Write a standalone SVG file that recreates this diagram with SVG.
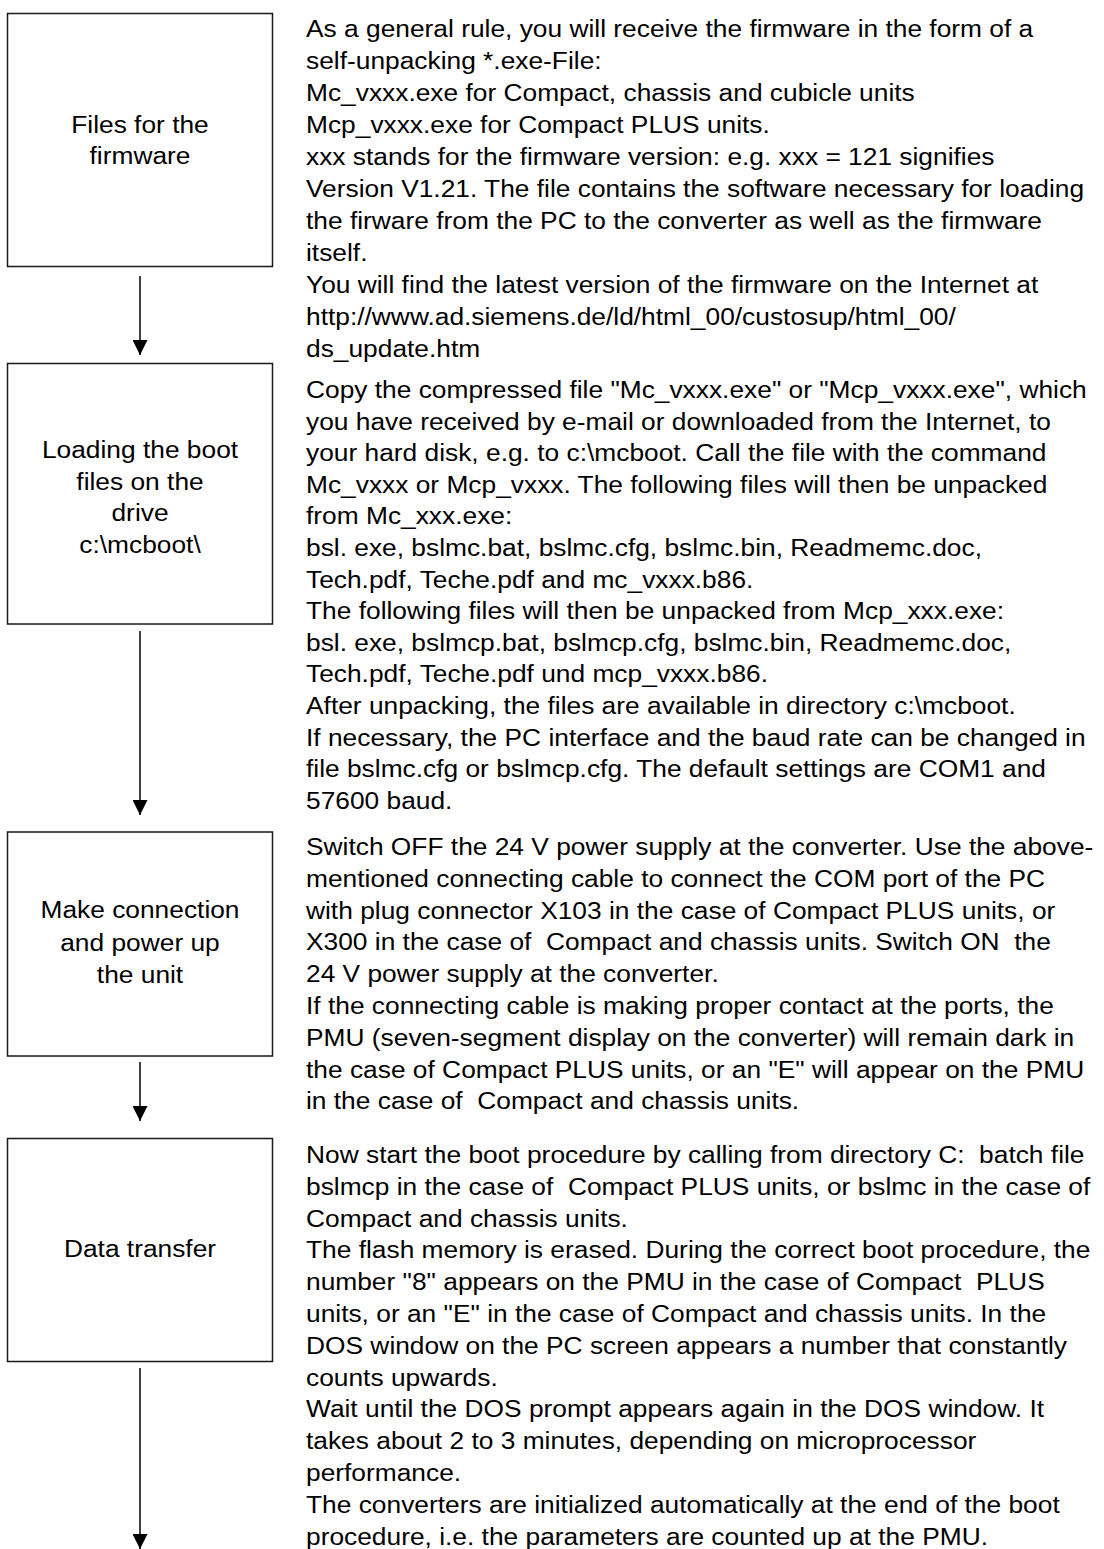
<svg xmlns="http://www.w3.org/2000/svg" width="1104" height="1549" viewBox="0 0 1104 1549">
<style>
.box{fill:#fff;stroke:#1a1a1a;stroke-width:1.5}
.lbl{font-family:"Liberation Sans",Arial,sans-serif;font-size:23.3px;fill:#000;text-anchor:middle}
.txt{font-family:"Liberation Sans",Arial,sans-serif;font-size:23.3px;fill:#000;white-space:pre}
.conn{stroke:#000;stroke-width:1.5;fill:none}
</style>
<defs>
<marker id="ah" markerUnits="userSpaceOnUse" markerWidth="15" markerHeight="15" refX="15" refY="7.5" orient="auto" viewBox="0 0 15 15">
<path d="M0,0 L15,7.5 L0,15 z" fill="#000"/>
</marker>
</defs>
<rect width="1104" height="1549" fill="#fff"/>
<g id="connectors">
<line class="conn" x1="140" y1="276" x2="140" y2="355" marker-end="url(#ah)"/>
<line class="conn" x1="140" y1="631" x2="140" y2="815" marker-end="url(#ah)"/>
<line class="conn" x1="140" y1="1062" x2="140" y2="1121" marker-end="url(#ah)"/>
<line class="conn" x1="140" y1="1368" x2="140" y2="1549" marker-end="url(#ah)"/>
</g>
<g id="node-files">
<rect class="box" x="7.5" y="13.5" width="265" height="253"/>
<g transform="scale(1.13 1)"><text class="lbl" x="123.9" y="133">Files for the</text><text class="lbl" x="123.9" y="164">firmware</text></g>
</g>
<g id="node-loading">
<rect class="box" x="7.5" y="363.5" width="265" height="260.5"/>
<g transform="scale(1.13 1)"><text class="lbl" x="123.9" y="458.5">Loading the boot</text><text class="lbl" x="123.9" y="490">files on the</text><text class="lbl" x="123.9" y="521.5">drive</text><text class="lbl" x="123.9" y="553">c:\mcboot\</text></g>
</g>
<g id="node-connection">
<rect class="box" x="7.5" y="832" width="265" height="224"/>
<g transform="scale(1.13 1)"><text class="lbl" x="123.9" y="918.5">Make connection</text><text class="lbl" x="123.9" y="951">and power up</text><text class="lbl" x="123.9" y="983.5">the unit</text></g>
</g>
<g id="node-transfer">
<rect class="box" x="7.5" y="1138.5" width="265" height="223"/>
<g transform="scale(1.13 1)"><text class="lbl" x="123.9" y="1257.5">Data transfer</text></g>
</g>
<g id="desc-files" transform="scale(1.13 1)">
<text class="txt" x="270.8" y="37">As a general rule, you will receive the firmware in the form of a</text>
<text class="txt" x="270.8" y="69">self-unpacking *.exe-File:</text>
<text class="txt" x="270.8" y="101">Mc_vxxx.exe for Compact, chassis and cubicle units</text>
<text class="txt" x="270.8" y="133">Mcp_vxxx.exe for Compact PLUS units.</text>
<text class="txt" x="270.8" y="165">xxx stands for the firmware version: e.g. xxx = 121 signifies</text>
<text class="txt" x="270.8" y="197">Version V1.21. The file contains the software necessary for loading</text>
<text class="txt" x="270.8" y="229">the firware from the PC to the converter as well as the firmware</text>
<text class="txt" x="270.8" y="261">itself.</text>
<text class="txt" x="270.8" y="293">You will find the latest version of the firmware on the Internet at</text>
<text class="txt" x="270.8" y="325">http://www.ad.siemens.de/ld/html_00/custosup/html_00/</text>
<text class="txt" x="270.8" y="357">ds_update.htm</text>
</g>
<g id="desc-loading" transform="scale(1.13 1)">
<text class="txt" x="270.8" y="398">Copy the compressed file "Mc_vxxx.exe" or "Mcp_vxxx.exe", which</text>
<text class="txt" x="270.8" y="429.6">you have received by e-mail or downloaded from the Internet, to</text>
<text class="txt" x="270.8" y="461.2">your hard disk, e.g. to c:\mcboot. Call the file with the command</text>
<text class="txt" x="270.8" y="492.8">Mc_vxxx or Mcp_vxxx. The following files will then be unpacked</text>
<text class="txt" x="270.8" y="524.4">from Mc_xxx.exe:</text>
<text class="txt" x="270.8" y="556">bsl. exe, bslmc.bat, bslmc.cfg, bslmc.bin, Readmemc.doc,</text>
<text class="txt" x="270.8" y="587.6">Tech.pdf, Teche.pdf and mc_vxxx.b86.</text>
<text class="txt" x="270.8" y="619.2">The following files will then be unpacked from Mcp_xxx.exe:</text>
<text class="txt" x="270.8" y="650.8">bsl. exe, bslmcp.bat, bslmcp.cfg, bslmc.bin, Readmemc.doc,</text>
<text class="txt" x="270.8" y="682.4">Tech.pdf, Teche.pdf und mcp_vxxx.b86.</text>
<text class="txt" x="270.8" y="714">After unpacking, the files are available in directory c:\mcboot.</text>
<text class="txt" x="270.8" y="745.6">If necessary, the PC interface and the baud rate can be changed in</text>
<text class="txt" x="270.8" y="777.2">file bslmc.cfg or bslmcp.cfg. The default settings are COM1 and</text>
<text class="txt" x="270.8" y="808.8">57600 baud.</text>
</g>
<g id="desc-connection" transform="scale(1.13 1)">
<text class="txt" x="270.8" y="855">Switch OFF the 24 V power supply at the converter. Use the above-</text>
<text class="txt" x="270.8" y="886.8">mentioned connecting cable to connect the COM port of the PC</text>
<text class="txt" x="270.8" y="918.6">with plug connector X103 in the case of Compact PLUS units, or</text>
<text class="txt" x="270.8" y="950.4">X300 in the case of  Compact and chassis units. Switch ON  the</text>
<text class="txt" x="270.8" y="982.2">24 V power supply at the converter.</text>
<text class="txt" x="270.8" y="1014">If the connecting cable is making proper contact at the ports, the</text>
<text class="txt" x="270.8" y="1045.8">PMU (seven-segment display on the converter) will remain dark in</text>
<text class="txt" x="270.8" y="1077.6">the case of Compact PLUS units, or an "E" will appear on the PMU</text>
<text class="txt" x="270.8" y="1109.4">in the case of  Compact and chassis units.</text>
</g>
<g id="desc-transfer" transform="scale(1.13 1)">
<text class="txt" x="270.8" y="1163">Now start the boot procedure by calling from directory C:  batch file</text>
<text class="txt" x="270.8" y="1194.8">bslmcp in the case of  Compact PLUS units, or bslmc in the case of</text>
<text class="txt" x="270.8" y="1226.6">Compact and chassis units.</text>
<text class="txt" x="270.8" y="1258.4">The flash memory is erased. During the correct boot procedure, the</text>
<text class="txt" x="270.8" y="1290.2">number "8" appears on the PMU in the case of Compact  PLUS</text>
<text class="txt" x="270.8" y="1322">units, or an "E" in the case of Compact and chassis units. In the</text>
<text class="txt" x="270.8" y="1353.8">DOS window on the PC screen appears a number that constantly</text>
<text class="txt" x="270.8" y="1385.6">counts upwards.</text>
<text class="txt" x="270.8" y="1417.4">Wait until the DOS prompt appears again in the DOS window. It</text>
<text class="txt" x="270.8" y="1449.2">takes about 2 to 3 minutes, depending on microprocessor</text>
<text class="txt" x="270.8" y="1481">performance.</text>
<text class="txt" x="270.8" y="1512.8">The converters are initialized automatically at the end of the boot</text>
<text class="txt" x="270.8" y="1544.6">procedure, i.e. the parameters are counted up at the PMU.</text>
</g>
</svg>
